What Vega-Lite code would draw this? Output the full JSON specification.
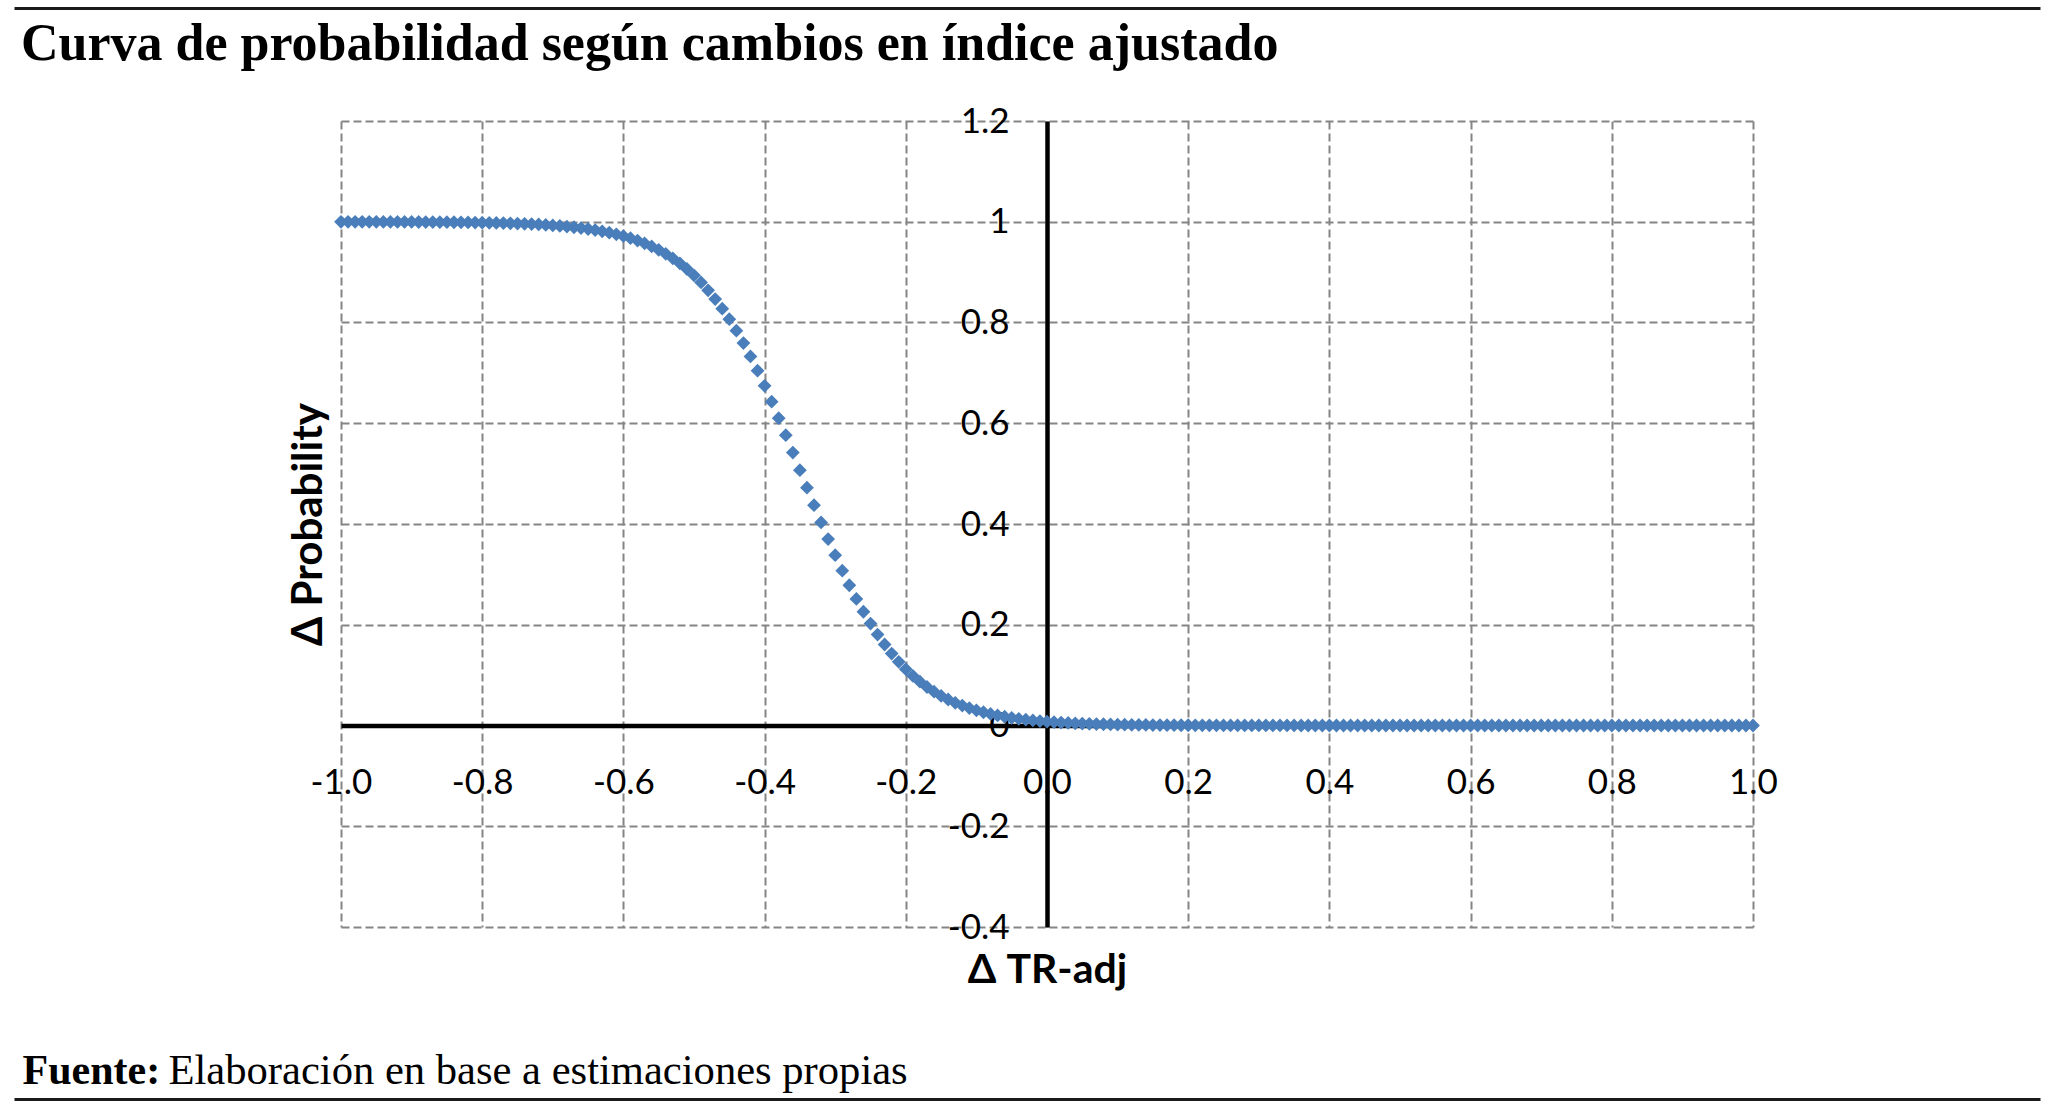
{
  "$schema": "https://vega.github.io/schema/vega-lite/v6.json",
  "width": 1412,
  "height": 806,
  "autosize": {"type": "none"},
  "padding": {"left": 341, "top": 121, "right": 295, "bottom": 182},
  "background": "white",
  "config": {"view": {"stroke": null}},
  "title": {"text": "Curva de probabilidad según cambios en índice ajustado", "anchor": "start", "frame": "group", "dx": -320, "dy": 64, "offset": 0, "font": "Liberation Serif", "fontSize": 52, "fontWeight": "bold", "color": "black"},
  "data": {"values": [
    {"x": -1.00, "y": 0.9999}, {"x": -0.99, "y": 0.9999}, {"x": -0.98, "y": 0.9999}, {"x": -0.97, "y": 0.9998}, {"x": -0.96, "y": 0.9998},
    {"x": -0.95, "y": 0.9998}, {"x": -0.94, "y": 0.9997}, {"x": -0.93, "y": 0.9997}, {"x": -0.92, "y": 0.9997}, {"x": -0.91, "y": 0.9996},
    {"x": -0.90, "y": 0.9996}, {"x": -0.89, "y": 0.9995}, {"x": -0.88, "y": 0.9994}, {"x": -0.87, "y": 0.9993}, {"x": -0.86, "y": 0.9992},
    {"x": -0.85, "y": 0.9991}, {"x": -0.84, "y": 0.9990}, {"x": -0.83, "y": 0.9988}, {"x": -0.82, "y": 0.9987}, {"x": -0.81, "y": 0.9984},
    {"x": -0.80, "y": 0.9982}, {"x": -0.79, "y": 0.9979}, {"x": -0.78, "y": 0.9976}, {"x": -0.77, "y": 0.9973}, {"x": -0.76, "y": 0.9969},
    {"x": -0.75, "y": 0.9964}, {"x": -0.74, "y": 0.9959}, {"x": -0.73, "y": 0.9953}, {"x": -0.72, "y": 0.9946}, {"x": -0.71, "y": 0.9937},
    {"x": -0.70, "y": 0.9928}, {"x": -0.69, "y": 0.9917}, {"x": -0.68, "y": 0.9905}, {"x": -0.67, "y": 0.9891}, {"x": -0.66, "y": 0.9875},
    {"x": -0.65, "y": 0.9856}, {"x": -0.64, "y": 0.9835}, {"x": -0.63, "y": 0.9811}, {"x": -0.62, "y": 0.9783}, {"x": -0.61, "y": 0.9751},
    {"x": -0.60, "y": 0.9715}, {"x": -0.59, "y": 0.9673}, {"x": -0.58, "y": 0.9626}, {"x": -0.57, "y": 0.9572}, {"x": -0.56, "y": 0.9511},
    {"x": -0.55, "y": 0.9442}, {"x": -0.54, "y": 0.9363}, {"x": -0.53, "y": 0.9274}, {"x": -0.52, "y": 0.9174}, {"x": -0.51, "y": 0.9062},
    {"x": -0.50, "y": 0.8936}, {"x": -0.49, "y": 0.8795}, {"x": -0.48, "y": 0.8639}, {"x": -0.47, "y": 0.8465}, {"x": -0.46, "y": 0.8275},
    {"x": -0.45, "y": 0.8066}, {"x": -0.44, "y": 0.7838}, {"x": -0.43, "y": 0.7591}, {"x": -0.42, "y": 0.7326}, {"x": -0.41, "y": 0.7043},
    {"x": -0.40, "y": 0.6743}, {"x": -0.39, "y": 0.6429}, {"x": -0.38, "y": 0.6101}, {"x": -0.37, "y": 0.5763}, {"x": -0.36, "y": 0.5418},
    {"x": -0.35, "y": 0.5069}, {"x": -0.34, "y": 0.4720}, {"x": -0.33, "y": 0.4373}, {"x": -0.32, "y": 0.4032}, {"x": -0.31, "y": 0.3700},
    {"x": -0.30, "y": 0.3380}, {"x": -0.29, "y": 0.3074}, {"x": -0.28, "y": 0.2784}, {"x": -0.27, "y": 0.2512}, {"x": -0.26, "y": 0.2258},
    {"x": -0.25, "y": 0.2023}, {"x": -0.24, "y": 0.1806}, {"x": -0.23, "y": 0.1608}, {"x": -0.22, "y": 0.1428}, {"x": -0.21, "y": 0.1265},
    {"x": -0.20, "y": 0.1118}, {"x": -0.19, "y": 0.0987}, {"x": -0.18, "y": 0.0869}, {"x": -0.17, "y": 0.0764}, {"x": -0.16, "y": 0.0671},
    {"x": -0.15, "y": 0.0588}, {"x": -0.14, "y": 0.0516}, {"x": -0.13, "y": 0.0451}, {"x": -0.12, "y": 0.0395}, {"x": -0.11, "y": 0.0345},
    {"x": -0.10, "y": 0.0301}, {"x": -0.09, "y": 0.0263}, {"x": -0.08, "y": 0.0229}, {"x": -0.07, "y": 0.0200}, {"x": -0.06, "y": 0.0174},
    {"x": -0.05, "y": 0.0152}, {"x": -0.04, "y": 0.0132}, {"x": -0.03, "y": 0.0115}, {"x": -0.02, "y": 0.0100}, {"x": -0.01, "y": 0.0087},
    {"x": 0.00, "y": 0.0076}, {"x": 0.01, "y": 0.0066}, {"x": 0.02, "y": 0.0058}, {"x": 0.03, "y": 0.0050}, {"x": 0.04, "y": 0.0044},
    {"x": 0.05, "y": 0.0038}, {"x": 0.06, "y": 0.0033}, {"x": 0.07, "y": 0.0029}, {"x": 0.08, "y": 0.0025}, {"x": 0.09, "y": 0.0022},
    {"x": 0.10, "y": 0.0019}, {"x": 0.11, "y": 0.0016}, {"x": 0.12, "y": 0.0014}, {"x": 0.13, "y": 0.0012}, {"x": 0.14, "y": 0.0011},
    {"x": 0.15, "y": 0.0009}, {"x": 0.16, "y": 0.0008}, {"x": 0.17, "y": 0.0007}, {"x": 0.18, "y": 0.0006}, {"x": 0.19, "y": 0.0005},
    {"x": 0.20, "y": 0.0005}, {"x": 0.21, "y": 0.0004}, {"x": 0.22, "y": 0.0004}, {"x": 0.23, "y": 0.0003}, {"x": 0.24, "y": 0.0003},
    {"x": 0.25, "y": 0.0002}, {"x": 0.26, "y": 0.0002}, {"x": 0.27, "y": 0.0002}, {"x": 0.28, "y": 0.0002}, {"x": 0.29, "y": 0.0001},
    {"x": 0.30, "y": 0.0001}, {"x": 0.31, "y": 0.0001}, {"x": 0.32, "y": 0.0001}, {"x": 0.33, "y": 0.0001}, {"x": 0.34, "y": 0.0001},
    {"x": 0.35, "y": 0.0001}, {"x": 0.36, "y": 0}, {"x": 0.37, "y": 0}, {"x": 0.38, "y": 0}, {"x": 0.39, "y": 0},
    {"x": 0.40, "y": 0}, {"x": 0.41, "y": 0}, {"x": 0.42, "y": 0}, {"x": 0.43, "y": 0}, {"x": 0.44, "y": 0},
    {"x": 0.45, "y": 0}, {"x": 0.46, "y": 0}, {"x": 0.47, "y": 0}, {"x": 0.48, "y": 0}, {"x": 0.49, "y": 0},
    {"x": 0.50, "y": 0}, {"x": 0.51, "y": 0}, {"x": 0.52, "y": 0}, {"x": 0.53, "y": 0}, {"x": 0.54, "y": 0},
    {"x": 0.55, "y": 0}, {"x": 0.56, "y": 0}, {"x": 0.57, "y": 0}, {"x": 0.58, "y": 0}, {"x": 0.59, "y": 0},
    {"x": 0.60, "y": 0}, {"x": 0.61, "y": 0}, {"x": 0.62, "y": 0}, {"x": 0.63, "y": 0}, {"x": 0.64, "y": 0},
    {"x": 0.65, "y": 0}, {"x": 0.66, "y": 0}, {"x": 0.67, "y": 0}, {"x": 0.68, "y": 0}, {"x": 0.69, "y": 0},
    {"x": 0.70, "y": 0}, {"x": 0.71, "y": 0}, {"x": 0.72, "y": 0}, {"x": 0.73, "y": 0}, {"x": 0.74, "y": 0},
    {"x": 0.75, "y": 0}, {"x": 0.76, "y": 0}, {"x": 0.77, "y": 0}, {"x": 0.78, "y": 0}, {"x": 0.79, "y": 0},
    {"x": 0.80, "y": 0}, {"x": 0.81, "y": 0}, {"x": 0.82, "y": 0}, {"x": 0.83, "y": 0}, {"x": 0.84, "y": 0},
    {"x": 0.85, "y": 0}, {"x": 0.86, "y": 0}, {"x": 0.87, "y": 0}, {"x": 0.88, "y": 0}, {"x": 0.89, "y": 0},
    {"x": 0.90, "y": 0}, {"x": 0.91, "y": 0}, {"x": 0.92, "y": 0}, {"x": 0.93, "y": 0}, {"x": 0.94, "y": 0},
    {"x": 0.95, "y": 0}, {"x": 0.96, "y": 0}, {"x": 0.97, "y": 0}, {"x": 0.98, "y": 0}, {"x": 0.99, "y": 0},
    {"x": 1.00, "y": 0}
  ]},
  "layer": [
    {
      "mark": {"type": "point", "shape": "diamond", "filled": true, "color": "#4a7ebb", "size": 190, "opacity": 1},
      "encoding": {
        "x": {"field": "x", "type": "quantitative", "scale": {"domain": [-1, 1], "nice": false, "zero": false},
          "axis": {"orient": "bottom", "offset": -201.5, "values": [-1, -0.8, -0.6, -0.4, -0.2, 0, 0.2, 0.4, 0.6, 0.8, 1],
            "labelExpr": "replace(format(datum.value, '.1f'), '\u2212', '-')",
            "labelFont": "Lato", "labelFontSize": 35, "labelColor": "black", "labelPadding": 40, "labelBaseline": "top", "labelFlush": false, "labelOverlap": false,
            "ticks": false, "tickSize": 0, "domain": true, "domainColor": "black", "domainWidth": 4.5,
            "grid": true, "gridColor": "#858585", "gridDash": [8, 4], "gridWidth": 2,
            "title": "Δ TR-adj", "titleFont": "Lato", "titleFontSize": 41, "titleFontWeight": "bold", "titleColor": "black",
            "titleX": 706, "titleY": 256.5, "titleAlign": "center", "titleBaseline": "alphabetic", "titleAngle": 0}},
        "y": {"field": "y", "type": "quantitative", "scale": {"domain": [-0.4, 1.2], "nice": false, "zero": false},
          "axis": {"orient": "left", "offset": -706, "values": [-0.4, -0.2, 0, 0.2, 0.4, 0.6, 0.8, 1, 1.2],
            "labelExpr": "toString(datum.value)",
            "labelFont": "Lato", "labelFontSize": 35, "labelColor": "black", "labelPadding": 38, "labelAlign": "right", "labelBaseline": "middle", "labelOverlap": false,
            "ticks": false, "tickSize": 0, "domain": true, "domainColor": "black", "domainWidth": 4.5,
            "grid": true, "gridColor": "#858585", "gridDash": [8, 4], "gridWidth": 2,
            "title": "Δ Probability", "titleFont": "Lato", "titleFontSize": 42, "titleFontWeight": "bold", "titleColor": "black",
            "titleX": -739, "titleY": 403, "titleAngle": -90, "titleAlign": "center", "titleBaseline": "middle"}}
      }
    },
    {
      "mark": {"type": "point", "opacity": 0},
      "encoding": {
        "x": {"field": "x", "type": "quantitative",
          "axis": {"orient": "top", "offset": 0, "labels": false, "ticks": false, "domain": false, "grid": false,
            "title": "Fuente:", "titleFont": "Liberation Serif", "titleFontSize": 42, "titleFontWeight": "bold", "titleColor": "black",
            "titleX": -319, "titleY": 962, "titleAlign": "left", "titleBaseline": "alphabetic", "titleAngle": 0}},
        "y": {"field": "y", "type": "quantitative",
          "axis": {"orient": "right", "offset": -1739, "values": [1.2], "labels": false, "domain": false, "grid": false, "title": null,
            "ticks": true, "tickSize": 2026, "tickWidth": 3, "tickColor": "#1a1a1a", "tickOffset": -113}}
      }
    },
    {
      "mark": {"type": "point", "opacity": 0},
      "encoding": {
        "x": {"field": "x", "type": "quantitative",
          "axis": {"orient": "bottom", "offset": 0, "labels": false, "ticks": false, "domain": false, "grid": false,
            "title": "Elaboración en base a estimaciones propias", "titleFont": "Liberation Serif", "titleFontSize": 42.6, "titleFontWeight": "normal", "titleColor": "black",
            "titleX": -173, "titleY": 156, "titleAlign": "left", "titleBaseline": "alphabetic", "titleAngle": 0}},
        "y": {"field": "y", "type": "quantitative",
          "axis": {"orient": "left", "offset": -1699, "values": [-0.4], "labels": false, "domain": false, "grid": false, "title": null,
            "ticks": true, "tickSize": 2026, "tickWidth": 3, "tickColor": "#1a1a1a", "tickOffset": 172}}
      }
    }
  ],
  "resolve": {"axis": {"x": "independent", "y": "independent"}}
}
